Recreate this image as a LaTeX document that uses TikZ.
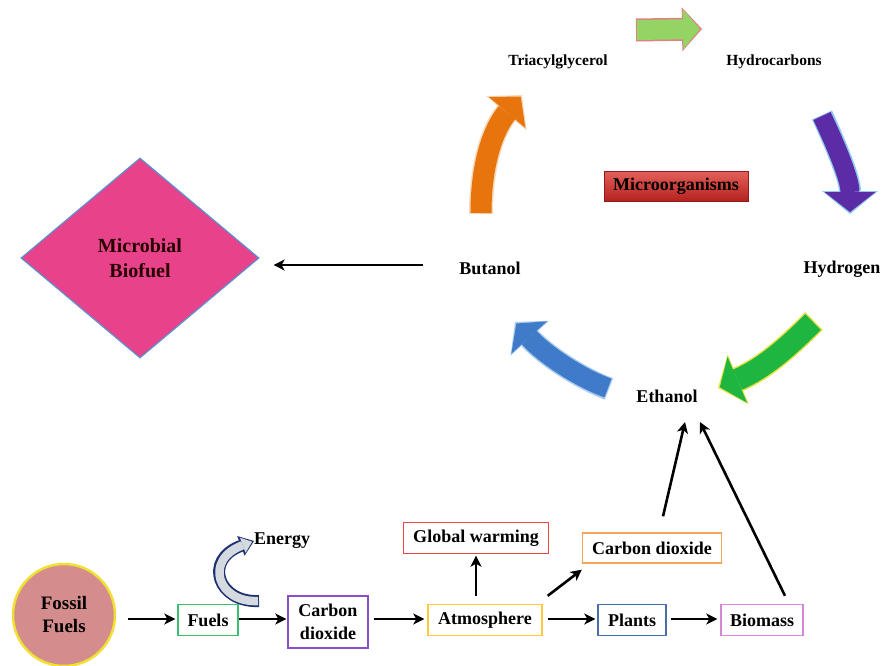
\documentclass[tikz,border=0pt]{standalone}
\usepackage{fontspec}
\setmainfont{Liberation Serif}
\usetikzlibrary{arrows.meta,shapes.geometric,calc}
\definecolor{dpink}{HTML}{E8428A}
\definecolor{dedge}{HTML}{5B8FD0}
\definecolor{fossilfill}{HTML}{D48C8C}
\definecolor{fossiledge}{HTML}{F0E034}
\definecolor{cfuels}{HTML}{3CBF6E}
\definecolor{cco2}{HTML}{8A4FC6}
\definecolor{catm}{HTML}{FFC83D}
\definecolor{cplants}{HTML}{4A6FA5}
\definecolor{cbio}{HTML}{D884D8}
\definecolor{cgw}{HTML}{E84545}
\definecolor{cco2o}{HTML}{F5A55A}
\definecolor{orfill}{HTML}{E8740E}
\definecolor{oredge}{HTML}{F6D9B8}
\definecolor{pufill}{HTML}{5C2CA6}
\definecolor{puedge}{HTML}{8FC8F0}
\definecolor{grfill}{HTML}{1EB540}
\definecolor{gredge}{HTML}{E6E040}
\definecolor{blfill}{HTML}{3F7BC8}
\definecolor{bledge}{HTML}{A8CBEE}
\definecolor{lgfill}{HTML}{94D464}
\definecolor{lgedge}{HTML}{E08080}
\definecolor{enfill}{HTML}{D4DAE0}
\definecolor{enedge}{HTML}{1E3270}
\definecolor{mtop}{HTML}{E4605A}
\definecolor{mbot}{HTML}{B5221E}
\definecolor{medge}{HTML}{8E1C1C}
\begin{document}
\begin{tikzpicture}[x=1pt,y=-1pt,
  font=\fontsize{18}{22}\selectfont\bfseries,
  lbl/.style={inner sep=1pt},
  smalllbl/.style={inner sep=1pt,font=\fontsize{15.5}{18}\selectfont\bfseries},
  box/.style={draw,line width=1.4pt,fill=white,inner sep=0pt,minimum height=31pt,align=center},
  conn/.style={line width=2.6pt,-{Stealth[length=11pt,width=11pt,inset=3pt]}}]
\useasboundingbox (0,0) rectangle (884,665);
\fill[white] (0,0) rectangle (884,665);

% ---- upper cycle ----
\node[diamond,draw=dedge,fill=dpink,line width=1.2pt,aspect=1.19,
      minimum width=238pt,minimum height=200pt,inner sep=0pt,align=center,
      font=\fontsize{20}{25}\selectfont\bfseries,text=black!85!red] (mb) at (140,258) {Microbial\\Biofuel};
\node[lbl] (butanol) at (490,268) {Butanol};
\node[lbl] (hydrogen) at (842,269) {Hydrogen};
\node[lbl] (ethanol) at (667,396) {Ethanol};
\node[smalllbl] (tag) at (558,62) {Triacylglycerol};
\node[smalllbl] (hc) at (774,62) {Hydrocarbons};
\node[draw=medge,line width=0.6pt,top color=mtop,bottom color=mbot,
      minimum width=144pt,minimum height=30pt,inner sep=0pt] (micro) at (676,186) {Microorganisms};

\draw[conn] ($(butanol.west)+(-35,-3)$) -- ($(mb.east)+(14,7)$);

% block arrows (outline then fill)
% orange
\draw[oredge,line width=24pt,-{Triangle[width=53pt,length=24pt,line width=0pt]}]
  (481,214) .. controls (481,162) and (494,128) .. (522,95);
\draw[orfill,line width=21pt,shorten >=2pt,-{Triangle[width=48pt,length=21pt,line width=0pt]}]
  (481,213) .. controls (481,162) and (494,128) .. (522,95);
% top green
\draw[lgedge,line width=23pt,-{Triangle[width=44pt,length=20pt,line width=0pt]}]
  (636,30) -- (702,29);
\draw[lgfill,line width=20pt,shorten >=2pt,-{Triangle[width=40pt,length=17pt,line width=0pt]}]
  (637,30) -- (702,29);
% purple
\draw[puedge,line width=22pt,-{Triangle[width=56pt,length=23pt,line width=0pt]}]
  (822,115) .. controls (838,150) and (850,180) .. (850,214);
\draw[pufill,line width=19pt,shorten >=2pt,-{Triangle[width=51pt,length=20pt,line width=0pt]}]
  (822,116) .. controls (838,150) and (850,180) .. (850,214);
% lower green
\draw[gredge,line width=25pt,-{Triangle[width=54pt,length=22pt,line width=0pt]}]
  (814,321) .. controls (790,345) and (765,368) .. (718,388);
\draw[grfill,line width=22pt,shorten >=2pt,-{Triangle[width=50pt,length=19pt,line width=0pt]}]
  (813,322) .. controls (790,345) and (765,368) .. (718,388);
% blue
\draw[bledge,line width=23pt,-{Triangle[width=52pt,length=22pt,line width=0pt]}]
  (609,389) .. controls (580,378) and (545,355) .. (515,322);
\draw[blfill,line width=20pt,shorten >=2pt,-{Triangle[width=48pt,length=19pt,line width=0pt]}]
  (608,388) .. controls (580,378) and (545,355) .. (515,322);

% ---- lower chain ----
\node[circle,draw=fossiledge,fill=fossilfill,line width=2.5pt,minimum size=102pt,
      inner sep=0pt,align=center,font=\fontsize{19}{23}\selectfont\bfseries] (fossil) at (64,615) {Fossil\\Fuels};
\node[box,draw=cfuels,minimum width=60pt] (fuels) at (208,620) {Fuels};
\node[box,draw=cco2,minimum width=80pt,minimum height=52pt,font=\fontsize{18}{23}\selectfont\bfseries] (co2) at (328,622) {Carbon\\dioxide};
\node[box,draw=catm,minimum width=114pt] (atm) at (485,620) {Atmosphere};
\node[box,draw=cplants,minimum width=68pt] (plants) at (632,620) {Plants};
\node[box,draw=cbio,minimum width=82pt] (biomass) at (762,620) {Biomass};
\node[box,draw=cgw,minimum width=145pt] (gw) at (476,538) {Global warming};
\node[box,draw=cco2o,minimum width=139pt,minimum height=30pt] (co2o) at (652,548) {Carbon dioxide};
\node[lbl] (energy) at (282,541) {Energy};

% energy hollow arrow
\draw[enedge,line width=12pt,-{Triangle[width=21pt,length=14pt,line width=0pt]}]
  (259,601) .. controls (218,603) and (203,560) .. (254,541);
\draw[enfill,line width=8.5pt,shorten >=2pt,-{Triangle[width=16pt,length=10pt,line width=0pt]}]
  (258,601) .. controls (218,603) and (203,560) .. (254,541);

\draw[conn] ($(fossil.east)+(12,4)$) -- ($(fuels.west)+(-2,-1)$);
\draw[conn] ($(fuels.east)+(0,-1)$) -- ($(fuels.east -| co2.west)+(-1,-1)$);
\draw[conn] ($(co2.east)+(5,-3)$) -- ($(co2.east -| atm.west)+(-3,-3)$);
\draw[conn] ($(atm.east)+(5,-1)$) -- ($(plants.west)+(-2,-1)$);
\draw[conn] ($(plants.east)+(4,-1)$) -- ($(biomass.west)+(-3,-1)$);
\draw[conn] ($(gw.south |- atm.north)+(0,-8)$) -- ($(gw.south)+(0,1.5)$);
\draw[conn] ($(atm.north east)+(5,-8)$) -- ($(co2o.south west)+(0,6)$);
\draw[conn] ($(co2o.north)+(11,-16)$) -- ($(ethanol)+(18,26)$);
\draw[conn] ($(biomass.north)+(23,-8)$) -- ($(ethanol)+(33,26)$);
\end{tikzpicture}
\end{document}
